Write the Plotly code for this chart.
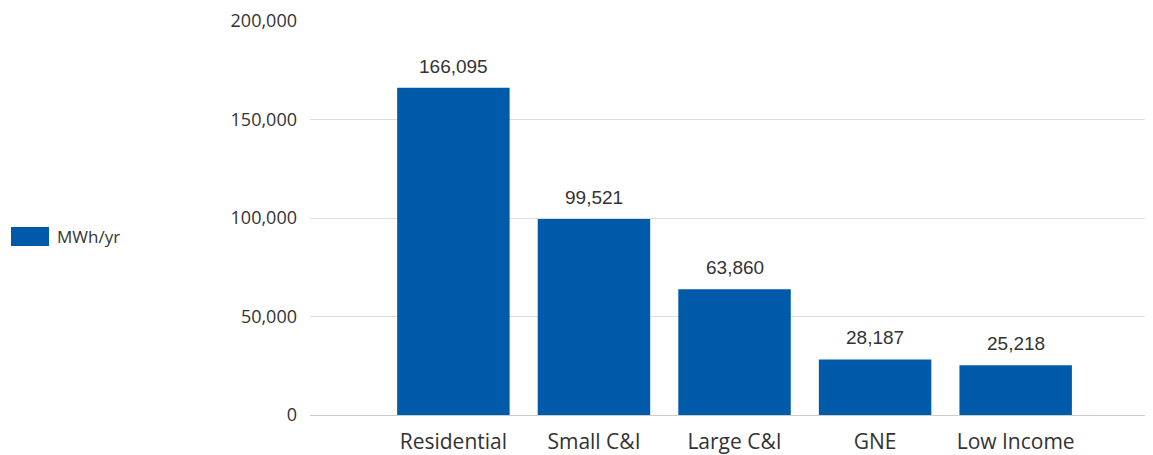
import plotly.graph_objects as go

categories = ["Residential", "Small C&I", "Large C&I", "GNE", "Low Income"]
mwh_per_year = [166095, 99521, 63860, 28187, 25218]
y_ticks = [0, 50000, 100000, 150000, 200000]
series_name = "MWh/yr"

BAR_COLOR = "#005AAA"
TEXT_COLOR = "#333333"
W, H = 1153, 455
L, R, T, B = 310, 8, 21, 40
plot_w = W - L - R

x_pos = list(range(len(categories)))

fig = go.Figure(
    go.Bar(
        x=x_pos,
        y=mwh_per_year,
        name=series_name,
        marker=dict(color=BAR_COLOR, line=dict(width=0)),
        showlegend=False,
    )
)

# Value labels above each bar
for xi, v in zip(x_pos, mwh_per_year):
    fig.add_annotation(
        x=xi, y=v, xref="x", yref="y",
        text=f"{v:,}", showarrow=False,
        xanchor="center", yanchor="bottom", yshift=9,
        font=dict(family="Liberation Sans, Arial", size=19, color=TEXT_COLOR),
    )


def px_to_paper_x(px):
    return (px - L) / plot_w


def px_to_paper_y(py):
    return 1 - (py - T) / (H - T - B)


# Legend drawn as a swatch plus label to the left of the plot area
fig.add_shape(
    type="rect", xref="paper", yref="paper",
    x0=px_to_paper_x(11), x1=px_to_paper_x(49),
    y0=px_to_paper_y(246), y1=px_to_paper_y(227),
    fillcolor=BAR_COLOR, line=dict(width=0),
)
fig.add_annotation(
    xref="paper", yref="paper", x=px_to_paper_x(55), y=px_to_paper_y(236.5),
    text=series_name, showarrow=False, xanchor="left", yanchor="middle",
    font=dict(family="Open Sans", size=17, color=TEXT_COLOR),
)

fig.update_layout(
    width=W, height=H,
    margin=dict(l=L, r=R, t=T, b=B),
    paper_bgcolor="white", plot_bgcolor="white",
    bargap=0.2,
    xaxis=dict(
        range=[-1.02, 4.92],
        tickmode="array",
        tickvals=x_pos,
        ticktext=categories,
        showgrid=False, zeroline=False, showline=False,
        ticks="", ticklabelstandoff=12, automargin=False,
        tickfont=dict(family="Open Sans", size=21, color=TEXT_COLOR),
    ),
    yaxis=dict(
        range=[0, 200000],
        tickmode="array",
        tickvals=y_ticks,
        ticktext=[f"{v:,}" for v in y_ticks],
        showgrid=True, gridcolor="#DDDDDD", gridwidth=1,
        zeroline=True, zerolinecolor="#CCCCCC", zerolinewidth=1,
        showline=False, ticks="", ticklabelstandoff=12, automargin=False,
        tickfont=dict(family="Open Sans", size=18, color=TEXT_COLOR),
    ),
)

fig.write_html("out.html")
